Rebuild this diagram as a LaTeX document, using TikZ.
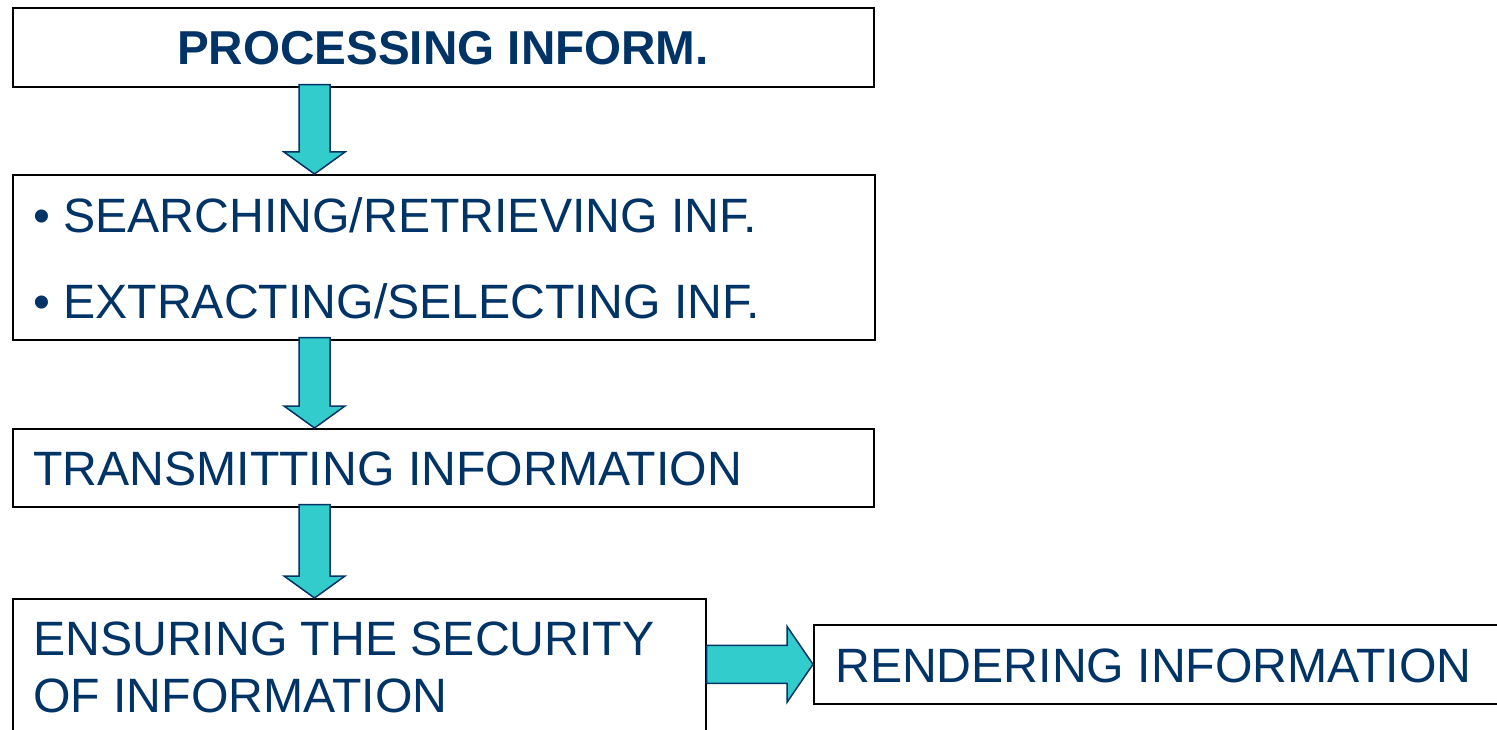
\documentclass[tikz,border=0pt]{standalone}
\usepackage{fontspec}
\setmainfont{Liberation Sans}
\usetikzlibrary{calc}
\definecolor{navy}{RGB}{0,51,102}
\definecolor{teal}{RGB}{51,204,204}
\tikzset{
  box/.style={draw=black, line width=1.6pt, inner sep=0pt, anchor=north west},
  label/.style={text=navy, inner sep=0pt, font=\fontsize{48.2}{58}\selectfont},
  fat/.style={fill=teal, draw=navy, line width=1.5pt, line join=miter},
}
% vertical block arrow between two stacked boxes, at a given offset from their left edge
\newcommand\vblock[3]{%
  \draw[fat] let \p1=($(#1.south west)+(#3pt,0pt)$), \p2=($(#2.north west)+(#3pt,0pt)$) in
    (\x1-15.5pt,\y1+3pt) -- (\x1+15.5pt,\y1+3pt) -- (\x1+15.5pt,\y2+22pt) -- (\x1+30.5pt,\y2+22pt)
    -- (\x1,\y2) -- (\x1-30.5pt,\y2+22pt) -- (\x1-15.5pt,\y2+22pt) -- cycle;}
\begin{document}
\begin{tikzpicture}[x=1pt,y=-1pt]
\useasboundingbox (0,0) rectangle (1497,730);
\clip (0,0) rectangle (1497,730);
\fill[white] (0,0) rectangle (1497,730);

% boxes
\node[box, minimum width=861pt, minimum height=79pt] (b1) at (12,7) {};
\node[box, minimum width=862pt, minimum height=165pt] (b2) at (12,174) {};
\node[box, minimum width=861pt, minimum height=78pt] (b3) at (12,428) {};
\node[box, minimum width=693pt, minimum height=160pt] (b4) at (12,598) {};
\node[box, minimum width=700pt, minimum height=79pt] (b5) at (813,624) {};

% texts
\node[label, anchor=base, font=\fontsize{47.6}{58}\selectfont\bfseries] (t1) at (443,65) {PROCESSING INFORM.};
\node[label, anchor=base west] (t2a) at (33,233) {\textbullet\ SEARCHING/RETRIEVING INF.};
\node[label, anchor=base west] (t2b) at (33,318) {\textbullet\ EXTRACTING/SELECTING INF.};
\node[label, anchor=base west] (t3) at (33,485) {TRANSMITTING INFORMATION};
\node[label, anchor=base west] (t4a) at (33,655) {ENSURING THE SECURITY};
\node[label, anchor=base west] (t4b) at (33,712) {OF INFORMATION};
\node[label, anchor=base west] (t5) at (835,682) {RENDERING INFORMATION};

% block arrows
\vblock{b1}{b2}{302.5}
\vblock{b2}{b3}{302.5}
\vblock{b3}{b4}{302.5}
\draw[fat] let \p1=(b4.east), \p2=(b5.west) in
  (\x1,\y2+19pt) -- (\x2-26pt,\y2+19pt) -- (\x2-26pt,\y2+38pt) -- (\x2,\y2)
  -- (\x2-26pt,\y2-38pt) -- (\x2-26pt,\y2-19pt) -- (\x1,\y2-19pt) -- cycle;
\end{tikzpicture}
\end{document}
